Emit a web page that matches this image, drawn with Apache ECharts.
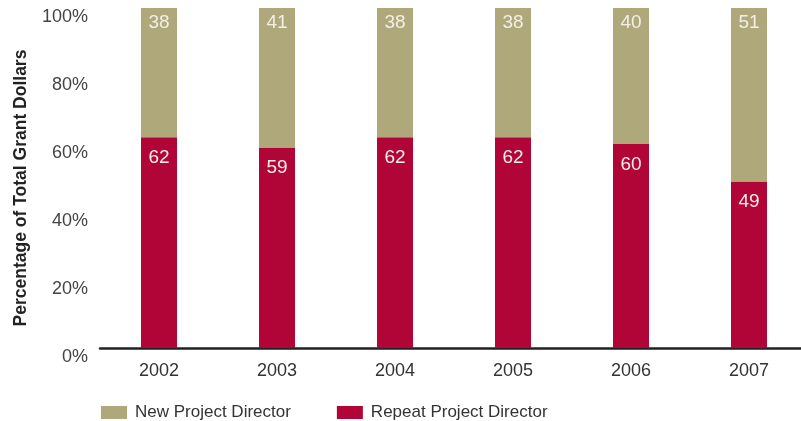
<!DOCTYPE html>
<html>
<head>
<meta charset="utf-8">
<script src="https://cdn.jsdelivr.net/npm/echarts@6/dist/echarts.min.js"></script>
<style>
  html, body { margin: 0; padding: 0; background: #fff; }
  #chart { width: 801px; height: 421px; }
</style>
</head>
<body>
<div id="chart"></div>
<script>
// 数据
var years = ['2002', '2003', '2004', '2005', '2006', '2007'];
var repeatValues = [62, 59, 62, 62, 60, 49];
var newValues = [38, 41, 38, 38, 40, 51];

var khaki = '#afa87a';
var crimson = '#b20537';
var fontFamily = 'Liberation Sans, Arial, sans-serif';

var dom = echarts.init(document.getElementById('chart'));

var option = {
    backgroundColor: '#fff',
    animation: false,
    textStyle: { fontFamily: fontFamily },
    grid: {
        left: 100,
        top: 8,
        width: 708,
        height: 340,
        outerBoundsMode: 'none'
    },
    legend: {
        data: ['New Project Director', 'Repeat Project Director'],
        left: 96,
        top: 399,
        itemWidth: 26,
        itemHeight: 13,
        itemGap: 46,
        icon: 'rect',
        textStyle: { color: '#333', fontSize: 17, fontFamily: fontFamily, padding: [0, 0, 0, 3] }
    },
    xAxis: {
        type: 'category',
        data: years,
        axisLine: { show: true, lineStyle: { color: '#222', width: 2.5 } },
        axisTick: { show: false },
        axisLabel: { color: '#333', fontSize: 18, margin: 14 }
    },
    yAxis: {
        type: 'value',
        min: 0,
        max: 100,
        interval: 20,
        name: 'Percentage of Total Grant Dollars',
        nameLocation: 'middle',
        nameGap: 70,
        nameTextStyle: { color: '#222', fontSize: 17.5, fontWeight: 'bold', padding: [0, 20, 0, 0] },
        axisLine: { show: false },
        axisTick: { show: false },
        splitLine: { show: false },
        axisLabel: {
            color: '#444',
            fontSize: 18,
            margin: 12,
            verticalAlign: 'top',
            formatter: '{value}%'
        }
    },
    series: [{
            name: 'Repeat Project Director',
            type: 'bar',
            stack: 'total',
            barWidth: 36,
            itemStyle: { color: crimson },
            label: {
                show: true,
                position: 'insideTop',
                distance: 11,
                color: '#f3efe6',
                fontSize: 19
            },
            data: repeatValues
        },
        {
            name: 'New Project Director',
            type: 'bar',
            stack: 'total',
            barWidth: 36,
            itemStyle: { color: khaki },
            label: {
                show: true,
                position: 'insideTop',
                distance: 5,
                color: '#f3efe6',
                fontSize: 19
            },
            data: newValues
        }
    ]
};

dom.setOption(option);
</script>
</body>
</html>
